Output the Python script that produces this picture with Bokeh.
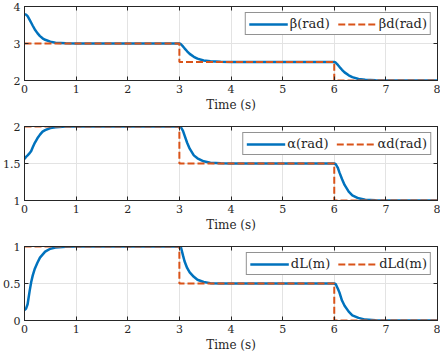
from bokeh.plotting import figure
from bokeh.models import Range1d, FixedTicker, LinearAxis, Legend, LegendItem
from bokeh.layouts import column
from bokeh.embed import file_html
from bokeh.resources import INLINE

# time samples of the simulated responses
t = [0, 0.03, 0.06, 0.1, 0.13, 0.16, 0.2, 0.25, 0.3, 0.35, 0.4, 0.5, 0.6, 0.8, 1.0, 2.0,
     3.0, 3.03, 3.07, 3.1, 3.15, 3.2, 3.28, 3.35, 3.47, 3.6, 3.8, 4.0, 5.0,
     6.0, 6.03, 6.07, 6.1, 6.15, 6.2, 6.28, 6.35, 6.47, 6.6, 6.8, 7.0, 8.0]
beta = [3.79, 3.78, 3.74, 3.64, 3.56, 3.48, 3.38, 3.28, 3.20, 3.14, 3.10, 3.05, 3.02, 3.005, 3.0, 3.0,
        3.0, 2.98, 2.92, 2.87, 2.79, 2.72, 2.64, 2.59, 2.54, 2.52, 2.505, 2.5, 2.5,
        2.5, 2.48, 2.42, 2.37, 2.29, 2.22, 2.14, 2.09, 2.04, 2.02, 2.005, 2.0, 2.0]
alpha = [1.56, 1.59, 1.61, 1.64, 1.67, 1.72, 1.78, 1.84, 1.89, 1.93, 1.95, 1.98, 1.99, 2.0, 2.0, 2.0,
         2.0, 1.99, 1.94, 1.88, 1.78, 1.70, 1.61, 1.57, 1.53, 1.51, 1.502, 1.5, 1.5,
         1.5, 1.49, 1.44, 1.38, 1.29, 1.21, 1.12, 1.07, 1.03, 1.01, 1.002, 1.0, 1.0]
dL = [0.14, 0.16, 0.22, 0.40, 0.52, 0.61, 0.70, 0.78, 0.85, 0.89, 0.93, 0.97, 0.985, 0.998, 1.0, 1.0,
      1.0, 0.99, 0.88, 0.80, 0.71, 0.65, 0.59, 0.55, 0.52, 0.505, 0.5, 0.5, 0.5,
      0.5, 0.49, 0.43, 0.38, 0.27, 0.20, 0.12, 0.07, 0.035, 0.012, 0.002, 0.0, 0.0]

# desired (reference) step signals
t_ref = [0, 3, 6, 8]
beta_d = [3, 2.5, 2, 2]
alpha_d = [2, 1.5, 1, 1]
dL_d = [1, 0.5, 0, 0]

x_ticks = [0, 1, 2, 3, 4, 5, 6, 7, 8]
beta_ticks = [2, 3, 4]
alpha_ticks = [1, 1.5, 2]
dL_ticks = [0, 0.5, 1]
beta_tick_labels = ["2", "3", "4"]
alpha_tick_labels = ["1", "1.5", "2"]
dL_tick_labels = ["0", "0.5", "1"]
x_label = "Time (s)"
legend_labels = [("β(rad)", "βd(rad)"), ("α(rad)", "αd(rad)"), ("dL(m)", "dLd(m)")]

AX = "#262626"
GRID = "#e3e3e3"
FONT = "DejaVu Serif"


def box_axis(ticks):
    # tick-only axis for the top / right side of the box (labels not drawn)
    return LinearAxis(ticker=FixedTicker(ticks=ticks), major_label_text_color=None,
                      major_label_text_font_size="1px", major_label_standoff=0,
                      major_tick_in=4, major_tick_out=0, minor_tick_line_color=None,
                      axis_line_color=AX, major_tick_line_color=AX)


def make_panel(y, yd, yticks, ylabels, labels, height, top):
    ymin, ymax = min(yticks), max(yticks)
    xmin, xmax = min(x_ticks), max(x_ticks)
    p = figure(width=440, height=height, x_range=Range1d(xmin, xmax),
               y_range=Range1d(ymin, ymax),
               output_backend="svg", toolbar_location=None,
               min_border_left=18, min_border_right=3,
               min_border_top=top, min_border_bottom=36)
    p.outline_line_color = AX
    p.outline_line_width = 1
    p.background_fill_color = "white"
    p.border_fill_color = "white"

    p.xaxis.ticker = FixedTicker(ticks=x_ticks)
    p.yaxis.ticker = FixedTicker(ticks=yticks)
    p.yaxis.major_label_overrides = {float(k): v for k, v in zip(yticks, ylabels)}
    p.xaxis.axis_label = x_label
    for ax in (p.xaxis[0], p.yaxis[0]):
        ax.axis_line_color = AX
        ax.major_tick_line_color = AX
        ax.major_tick_in = 4
        ax.major_tick_out = 0
        ax.minor_tick_line_color = None
        ax.major_label_text_font = FONT
        ax.major_label_text_font_size = "11px"
        ax.major_label_text_color = AX
        ax.major_label_standoff = 4
    p.xaxis.axis_label_text_font = FONT
    p.xaxis.axis_label_text_font_size = "12px"
    p.xaxis.axis_label_text_font_style = "normal"
    p.xaxis.axis_label_text_color = AX
    p.xaxis.axis_label_standoff = 2

    p.add_layout(box_axis(x_ticks), "above")
    p.add_layout(box_axis(yticks), "right")

    p.xgrid.ticker = FixedTicker(ticks=x_ticks)
    p.ygrid.ticker = FixedTicker(ticks=yticks)
    p.grid.grid_line_color = GRID
    p.grid.grid_line_width = 1

    r1 = p.line(t, y, line_color="#0072BD", line_width=2.5)
    r2 = p.step(t_ref, yd, mode="after", line_color="#D95319", line_width=2, line_dash="7 3")

    legend = Legend(items=[LegendItem(label=labels[0], renderers=[r1]),
                           LegendItem(label=labels[1], renderers=[r2])],
                    orientation="horizontal", location="top_right")
    legend.margin = 6
    legend.padding = 3
    legend.spacing = 8
    legend.glyph_width = 39
    legend.glyph_height = 14
    legend.label_height = 14
    legend.label_standoff = 2
    legend.label_text_font = FONT
    legend.label_text_font_size = "13px"
    legend.label_text_color = AX
    legend.border_line_color = AX
    legend.border_line_width = 1
    legend.background_fill_color = "white"
    legend.background_fill_alpha = 1
    p.add_layout(legend)
    return p


p1 = make_panel(beta, beta_d, beta_ticks, beta_tick_labels, legend_labels[0], 116, 6)
p2 = make_panel(alpha, alpha_d, alpha_ticks, alpha_tick_labels, legend_labels[1], 120, 10)
p3 = make_panel(dL, dL_d, dL_ticks, dL_tick_labels, legend_labels[2], 120, 10)

layout = column(p1, p2, p3, spacing=0)
open("out.html", "w").write(file_html(layout, INLINE))
